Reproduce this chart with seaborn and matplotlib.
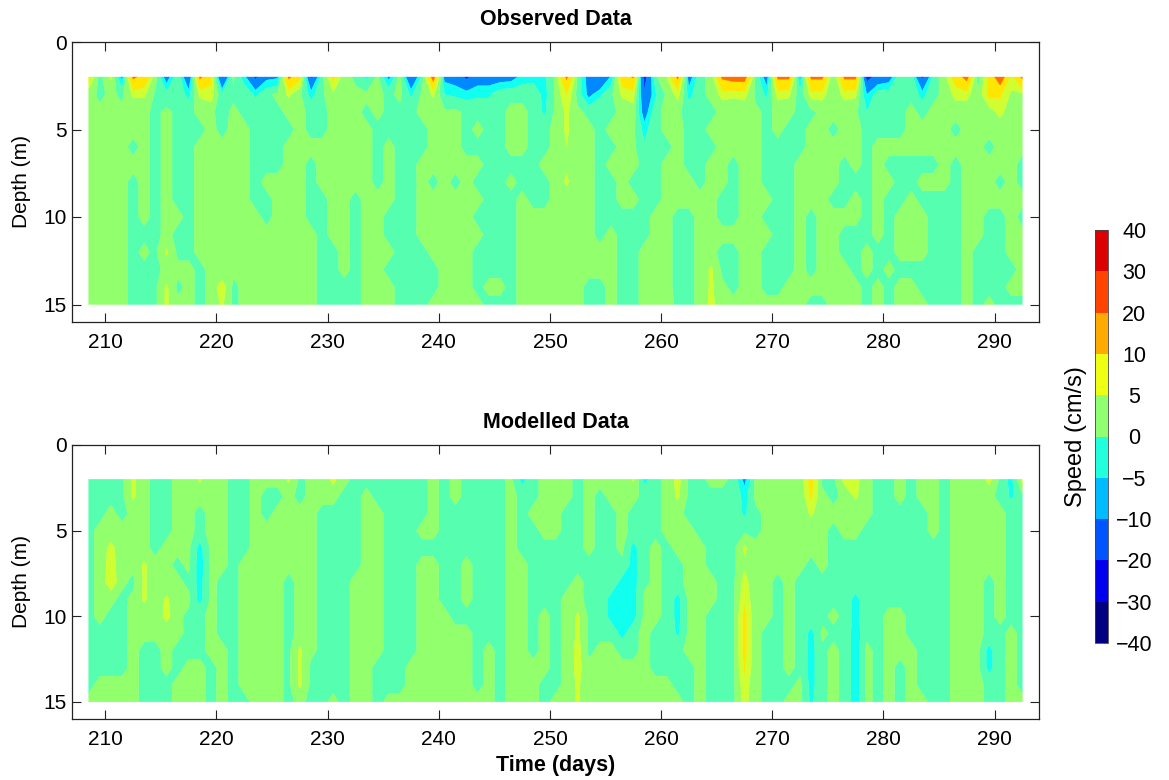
import numpy as np
import matplotlib
matplotlib.use("Agg")
import matplotlib.pyplot as plt
from matplotlib.colors import ListedColormap, BoundaryNorm
from matplotlib.cm import ScalarMappable
import seaborn as sns

days = [208.5 + i for i in range(85)]
depths = [2, 3, 4, 5, 6, 7, 8, 9, 10, 11, 12, 13, 14, 15]
levels = [-40, -30, -20, -10, -5, 0, 5, 10, 20, 30, 40]
xtick_vals = [210, 220, 230, 240, 250, 260, 270, 280, 290]
ytick_vals = [0, 5, 10, 15]
level_labels = ["\u221240", "\u221230", "\u221220", "\u221210", "\u22125", "0", "5", "10", "20", "30", "40"]

obs_02 = [12,-2,6,-12,22,16,2,-14,-1,-18, 22,12,-22,1,-8,-22,-12,-11,22,12, -22,-2,12,2,-1,-6,1,-12,2,-20,
          -3,25,-12,-14,-22,-14,-14,-14,-13,-8, -7,-6,1,22,-1,-14,-20,-9,15,21, -25,-1,5,22,-14,-1,1,22,25,25,
          -1,-14,22,22,-12,22,22,-1,22,22, -24,-16,-14,-1,-1,-22,-3,3,14,24, -3,12,28,8,22]
obs_03 = [2,-1,1,-1,6,6,-1,-3,-1,-7, 6,8,-4,-1,-1,-6,-1,1,6,1, -7,-1,4,1,1,1,1,-1,1,-6,
          1,6,-5,-6,-7,-6,-6,-1,-1,-1, -1,-7,1,10,-2,-12,-6,-1,6,7, -18,-6,1,7,-7,-1,1,7,6,7,
          -1,-6,7,6,-3,7,7,1,7,6, -10,-2,-1,-1,-1,-7,-1,1,7,7, 1,12,11,4,4]
obs_04 = [1,1,1,1,1,1,-1,1,-1,-1, 1,1,-2,1,-1,-1,-1,-1,1,1, -1,-1,1,1,1,-1,1,-1,-1,-1,
          1,1,1,1,-1,-1,-1,-1,1,1, -1,-6,1,6,1,-1,-1,-1,1,3, -14,-1,1,1,-2,-1,-1,1,1,1,
          1,-1,1,1,-1,-1,1,1,1,1, -5,-1,-1,-1,1,-1,1,1,1,1, 1,2,7,1,1]
obs_05 = [1,1,1,1,1,1,-1,1,-1,-1, -1,1,-1,1,1,-1,-1,-1,-1,1, -1,-1,1,1,1,1,-1,-1,-1,-1,
          -1,1,1,1,-1,1,-1,-1,1,1, -1,-1,1,6,1,1,-1,1,1,1, -7,-1,1,1,-1,-1,1,1,1,1,
          1,-1,1,-1,-1,1,1,-1,1,1, -1,-1,-1,-1,1,1,1,1,-1,1, 1,1,1,1,1]
obs_06 = [1,1,1,1,-1,1,-1,1,-1,-1, 1,1,1,1,1,-1,-1,-1,1,1, 1,1,1,1,1,1,-1,1,-1,-1,
          -1,1,1,1,-1,-1,-1,-1,1,1, -1,-1,1,5,1,1,-1,-1,1,1, -4,-1,-1,1,-1,-1,-1,1,1,1,
          1,-1,-1,-1,-1,1,1,1,1,1, -1,1,1,1,1,1,1,1,1,1, 1,-1,1,1,1]
obs_07 = [1,1,1,1,1,1,-1,1,-1,-1, 1,1,1,1,1,-1,-1,-1,1,1, -1,1,1,1,1,1,-1,1,-1,-1,
          1,1,1,1,1,1,-1,-1,-1,-1, -1,1,1,4,1,1,-1,1,1,1, -1,-1,1,1,-1,-1,1,1,-1,1,
          1,-1,-1,-1,1,1,1,1,-1,1, -1,1,-1,-1,-1,-1,-1,1,-1,1, 1,1,1,1,-1]
obs_08 = [1,1,1,1,-1,1,-1,1,-1,-1, 1,1,1,1,1,-1,1,1,1,1, -1,1,1,1,1,1,-1,1,-1,-1,
          1,-1,1,-1,1,-1,-1,-1,1,-1, -1,-1,1,6,1,1,-1,-1,1,-1, -1,-1,1,1,1,-1,1,1,-1,1,
          1,-1,-1,-1,1,1,1,1,-1,-1, -1,1,1,-1,-1,1,1,1,-1,1, 1,1,-1,1,-1]
obs_09 = [1,1,1,1,-1,1,-1,1,-1,-1, 1,1,1,1,1,-1,-1,1,1,1, -1,-1,1,1,-1,1,1,1,-1,-1,
          1,1,1,1,1,1,-1,-1,-1,1, -1,-1,1,1,1,1,-1,-1,1,1, -1,-1,1,1,1,1,1,-1,-1,1,
          1,1,-1,-1,1,1,1,-1,-1,1, -1,1,-1,-1,1,-1,-1,-1,-1,1, 1,1,1,1,1]
obs_10 = [1,1,1,1,-1,1,-1,1,1,-1, 1,1,1,1,1,1,-1,1,1,1, -1,-1,1,1,-1,1,1,-1,-1,-1,
          1,1,1,1,1,-1,-1,-1,-1,1, 1,1,1,1,1,1,-1,-1,-1,-1, -1,1,1,-1,-1,1,1,-1,-1,1,
          1,-1,-1,-1,1,-1,1,1,1,1, -1,1,-1,1,1,1,-1,-1,-1,1, 1,-1,-1,1,-1]
obs_11 = [1,1,1,1,-1,-1,-1,1,-1,-1, 1,1,1,1,1,1,1,1,1,1, 1,-1,1,1,-1,1,1,-1,-1,-1,
          1,1,1,1,1,1,-1,-1,-1,1, 1,1,1,1,1,1,-1,1,-1,-1, -1,1,1,-1,-1,1,1,1,1,1,
          1,1,-1,-1,1,-1,1,1,-1,-1, -1,1,-1,1,1,1,-1,-1,-1,1, 1,-1,-1,1,1]
obs_12 = [1,1,1,1,-1,1,-1,6,-1,-1, 1,1,1,1,1,1,1,1,1,1, 1,-1,-1,1,-1,1,1,1,-1,-1,
          -1,1,1,1,1,-1,-1,-1,-1,1, 1,1,1,1,1,1,1,1,-1,-1, 1,1,1,-1,-1,1,1,-1,-1,1,
          1,-1,-1,-1,1,-1,1,1,-1,-1, 1,-1,-1,1,1,1,-1,-1,-1,1, -1,-1,-1,1,1]
obs_13 = [1,1,1,1,-1,-1,-1,1,1,1, -1,1,1,1,1,1,1,1,1,1, 1,-1,-1,1,-1,1,1,-1,-1,-1,
          -1,-1,1,1,1,-1,-1,-1,-1,1, 1,1,1,1,1,1,1,1,-1,-1, 1,1,1,-1,-1,1,6,-1,-1,1,
          1,-1,-1,-1,1,-1,1,1,1,-1, 1,-1,1,-1,-1,-1,-1,-1,-1,1, -1,-1,-1,-1,1]
obs_14 = [1,1,1,1,-1,-1,-1,6,-1,1, -1,1,8,-1,1,1,1,1,1,1, 1,-1,-1,-1,-1,1,1,1,-1,-1,
          -1,-1,1,1,1,-1,1,1,-1,1, 3,1,1,1,1,-1,-1,1,-1,-1, 1,1,1,-1,-1,1,6,1,-1,1,
          1,-1,-1,1,1,1,1,1,1,1, -1,1,-1,1,1,-1,-1,-1,-1,1, -1,-1,-1,1,1]
obs_15 = [1,1,1,1,-1,-1,-1,6,1,1, -1,1,6,-1,1,1,1,1,1,1, 1,-1,-1,-1,-1,1,1,1,-1,-1,
          -1,1,1,1,1,1,-1,-1,-1,1, 1,1,1,1,1,-1,-1,1,-1,-1, 1,1,2,-1,-1,1,7,1,1,1,
          1,1,1,1,1,-1,-1,1,1,1, -1,1,-1,1,1,1,-1,-1,-1,1, -1,1,-1,-1,-1]

mod_02 = [-1,-1,-1,-1,6,1,-1,-1,1,1, 6,1,1,-1,-1,1,1,1,6,-1, 1,1,7,1,-1,-1,-1,-1,-1,-1,
          -1,1,-1,1,-1,-1,-1,-1,1,-7, -1,1,1,1,-1,1,1,1,1,6, -7,-1,1,7,-1,-1,1,1,-1,-12,
          1,1,1,1,1,13,-1,-1,7,7, 1,-1,-1,1,-1,1,1,-1,1,1, 1,7,-1,-7,7]
mod_03 = [-1,-1,-1,-1,6,1,-1,-1,1,1, 1,1,1,-1,-1,1,-1,-1,1,-1, 1,1,1,-1,-1,1,-1,-1,-1,-1,
          -1,1,-1,1,-1,-1,-1,-1,1,-1, -1,1,1,1,-1,1,-1,1,1,1, -1,-1,1,6,-1,-1,-1,-1,-1,-7,
          1,1,1,1,1,11,1,-1,1,6, 1,-1,-1,1,-1,1,1,-1,1,1, 1,1,-1,-6,-1]
mod_04 = [-1,-1,1,-1,1,1,-1,-1,1,1, -1,1,1,-1,-1,1,-1,1,1,1, 1,-1,-1,-1,-1,1,1,-1,-1,-1,
          -1,1,-1,-1,-1,-1,-1,-1,1,-1, 1,1,1,-1,-1,1,-1,-1,1,-1, -1,-1,1,1,-1,-1,-1,-1,-1,-6,
          -1,1,1,1,1,6,1,1,1,1, 1,-1,-1,-1,-1,-1,1,-1,1,1, 1,1,1,-1,-1]
mod_05 = [-1,1,1,1,1,1,-1,-1,1,1, -1,1,1,-1,-1,1,1,1,1,1, 1,-1,-1,-1,-1,1,1,-1,-1,-1,
          1,1,-1,-1,-1,-1,-1,-1,1,-1, -1,1,1,-1,-1,1,-1,-1,1,-1, -1,-1,1,1,1,-1,-1,-1,-1,-1,
          -1,1,1,1,1,1,1,-1,1,1, -1,-1,-1,-1,-1,-1,1,-1,1,1, 1,1,1,-1,-1]
mod_06 = [-1,1,7,1,1,1,-1,1,1,1, -7,1,1,-1,-1,1,1,1,1,1, 1,-1,-1,-1,-1,1,1,-1,-1,-1,
          -1,-1,-1,-1,-1,-1,-1,-1,1,-1, -1,-1,-1,-1,-1,1,-1,-1,1,-7, -1,1,-1,1,1,1,-1,-1,-1,6,
          1,1,1,1,1,1,1,-1,-1,-1, -1,-1,-1,-1,-1,-1,-1,-1,1,1, 1,1,1,-1,-1]
mod_07 = [-1,1,8,1,1,6,1,1,-1,1, -8,1,1,-1,1,1,1,1,1,1, 1,-1,-1,-1,-1,1,1,-1,-1,-1,
          1,1,-1,-1,1,-1,-1,-1,1,1, -1,-1,-1,-1,-1,-1,-1,-1,-1,-7, -1,1,-1,-1,1,1,-1,-1,-1,4,
          1,1,1,1,1,-1,1,-1,-1,-1, -1,-1,-1,-1,-1,-1,-1,-1,1,1, 1,1,1,-1,-1]
mod_08 = [-1,1,9,1,-1,6,1,1,1,-1, -7,1,-1,-1,1,1,1,1,-1,1, 1,-1,-1,-1,1,1,1,-1,-1,-1,
          1,1,-1,-1,1,-1,-1,-1,1,1, -1,-1,-1,-1,1,-1,-1,-1,-7,-7, -1,1,-1,-1,1,1,1,-1,-1,7,
          1,1,-1,1,-1,-1,-1,-1,-1,-1, -1,-1,-1,-1,-1,-1,-1,-1,1,1, 1,-1,1,-1,-1]
mod_09 = [-1,1,1,-1,1,6,1,6,1,1, -7,1,-1,-1,1,1,1,1,-1,1, 1,-1,-1,-1,1,1,1,-1,-1,-1,
          1,1,-1,-1,1,-1,-1,-1,1,1, -1,-1,-1,1,1,-1,-1,-7,-8,-7, 1,1,-1,-7,1,1,1,-1,-1,9,
          1,1,-1,1,-1,-1,-1,-1,-1,-7, -1,-1,-1,-1,-1,-1,-1,-1,1,1, 1,-1,1,-1,-1]
mod_10 = [-1,1,-1,-1,1,1,1,7,1,-1, -1,1,-1,-1,1,1,1,1,-1,1, 1,-1,-1,-1,1,1,1,-1,-1,-1,
          1,1,1,-1,-1,-1,-1,-1,1,1, -1,1,-1,1,6,-1,-1,-7,-7,-7, 1,1,-1,-7,1,1,-1,-1,-1,12,
          1,1,-1,1,-1,-1,-1,1,-1,-7, -1,-1,1,1,-1,-1,-1,-1,1,1, 1,-1,1,-1,-1]
mod_11 = [-1,-1,-1,-1,1,1,1,1,1,-1, -1,1,-1,-1,1,1,1,1,-1,1, 1,-1,-1,-1,1,1,1,-1,-1,-1,
          1,1,1,1,1,-1,-1,-1,1,1, -1,1,-1,1,6,-1,-1,-1,-7,-1, 1,-1,-1,-6,1,1,-1,-1,-1,12,
          1,-1,-1,1,-1,-7,1,-1,-1,-8, -1,-1,1,1,-1,-1,-1,-1,1,1, 1,-1,-1,1,-1]
mod_12 = [-1,-1,-1,-1,1,-1,-1,1,-1,-1, -1,1,1,-1,1,1,1,1,-1,6, 1,-1,-1,-1,1,1,1,-1,-1,-1,
          1,1,1,1,1,-1,1,-1,1,1, -1,1,-1,1,7,-1,1,1,-1,-1, 1,-1,-1,-1,1,1,-1,-1,-1,12,
          1,-1,-1,1,-1,-7,-1,1,-1,-8, 1,-1,1,1,1,-1,-1,-1,1,1, 1,-7,-1,1,-1]
mod_13 = [-1,-1,-1,-1,1,-1,-1,1,-1,1, 1,-1,1,-1,1,1,1,1,-1,6, -1,-1,-1,-1,1,1,-1,-1,-1,1,
          1,1,1,1,1,-1,1,-1,1,1, 1,1,-1,1,7,1,1,1,1,1, 1,-1,-1,-1,-1,1,-1,-1,-1,11,
          1,-1,-1,1,-1,-7,-1,1,-1,-8, 1,-1,1,-1,1,-1,-1,-1,1,1, 1,-7,-1,1,-1]
mod_14 = [-1,1,1,1,1,-1,-1,-1,1,1, 1,-1,1,-1,1,1,1,1,-1,6, -1,-1,-1,-1,1,1,-1,-1,-1,1,
          1,1,1,1,1,-1,1,-1,1,1, 1,-1,-1,1,6,1,1,1,1,1, 1,1,1,-1,-1,1,-1,-1,-1,8,
          1,-1,-1,-1,1,-7,-1,1,-1,-8, 1,-1,1,-1,1,-1,-1,-1,1,1, 1,-1,-1,1,-1]
mod_15 = [1,1,1,1,1,-1,-1,-1,1,1, 1,-1,1,-1,-1,1,1,1,-1,1, -1,-1,1,-1,1,1,-1,1,1,1,
          1,1,1,1,1,1,1,-1,1,1, 1,-1,1,1,6,1,1,1,1,1, 1,1,1,1,-1,1,-1,-1,-1,7,
          1,-1,-1,1,1,-6,-1,1,-1,-8, 1,-1,1,-1,1,1,-1,-1,1,1, 1,-1,-1,1,1]

observed = [obs_02, obs_03, obs_04, obs_05, obs_06, obs_07, obs_08, obs_09, obs_10, obs_11, obs_12, obs_13, obs_14, obs_15]
modelled = [mod_02, mod_03, mod_04, mod_05, mod_06, mod_07, mod_08, mod_09, mod_10, mod_11, mod_12, mod_13, mod_14, mod_15]
for r in observed + modelled:
    assert len(r) == 85, len(r)

sns.set_theme(style="ticks")
plt.rcParams["font.family"] = ["Liberation Sans", "DejaVu Sans"]

field_colors = ["#000080", "#0030FF", "#0088FF", "#10FFEE", "#55FFAF",
                "#92FF6C", "#CFFF30", "#FFE600", "#FF7000", "#DD0000"]
bar_colors = ["#000080", "#0000EE", "#0055FF", "#00BBFF", "#22FFDD",
              "#90FF70", "#EEFF11", "#FFAA00", "#FF4400", "#DD0000"]
field_cmap = ListedColormap(sns.color_palette(field_colors))
bar_cmap = ListedColormap(sns.color_palette(bar_colors))
norm = BoundaryNorm(levels, 10)

W, H = 1169, 780
fig = plt.figure(figsize=(W / 100, H / 100), dpi=100)

def box(l, t, r, b):
    return [l / W, 1 - b / H, (r - l) / W, (b - t) / H]

ax1 = fig.add_axes(box(72, 42, 1039, 322))
ax2 = fig.add_axes(box(72, 445, 1039, 719))
DARK = "#222222"
for ax, data, title in [(ax1, observed, "Observed Data"), (ax2, modelled, "Modelled Data")]:
    cs = ax.contourf(days, depths, np.array(data, dtype=float), levels=levels, cmap=field_cmap, norm=norm, antialiased=True)
    cs.set_edgecolor("face")
    cs.set_linewidth(0.25)
    ax.set_xlim(207, 294)
    ax.set_ylim(16, 0)
    ax.set_xticks(xtick_vals)
    ax.set_yticks(ytick_vals)
    ax.tick_params(direction="in", top=True, right=True, length=6.5, width=0.8, color=DARK,
                   labelsize=15, labelcolor="black")
    ax.tick_params(axis="x", pad=8)
    ax.tick_params(axis="y", pad=4)
    ax.set_ylabel("Depth (m)", fontsize=15, color="black", labelpad=9)
    ax.set_title(title, fontsize=15.5, fontweight="bold", color="black", pad=12)
    sns.despine(ax=ax, top=False, right=False)
    for s in ax.spines.values():
        s.set_linewidth(0.9)
        s.set_color(DARK)
ax2.set_xlabel("Time (days)", fontsize=15.5, fontweight="bold", color="black", labelpad=4)

cax = fig.add_axes(box(1095, 230, 1108, 643))
cb = fig.colorbar(ScalarMappable(norm=norm, cmap=bar_cmap), cax=cax, spacing="uniform", ticks=levels)
cb.ax.set_yticklabels(level_labels, ha="center")
cb.ax.tick_params(length=0, labelsize=15.5, labelcolor="black", pad=19)
cb.outline.set_linewidth(0.6)
cb.outline.set_edgecolor("#444444")
cax.yaxis.set_label_position("left")
cb.set_label("Speed (cm/s)", fontsize=17, color="black", labelpad=6)

fig.savefig("out.png", dpi=100)
